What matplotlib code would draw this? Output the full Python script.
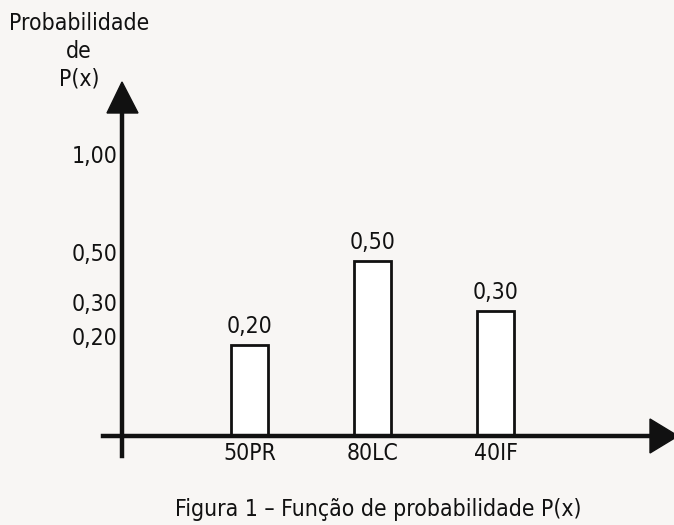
import numpy as np
import matplotlib
matplotlib.use('Agg')
import matplotlib.pyplot as plt
from matplotlib.lines import Line2D
from matplotlib.patches import Polygon

categorias = ['50PR', '80LC', '40IF']
probabilidades = [0.20, 0.50, 0.30]
ticks_y = [0.20, 0.30, 0.50, 1.00]
titulo_y = ['Probabilidade', 'de', 'P(x)']
legenda = 'Figura 1 \u2013 Função de probabilidade P(x)'

def virgula(v):
    return f'{v:.2f}'.replace('.', ',')

# the original drawing is not to scale: piecewise scale through the labelled values
nos_val = [0.0, 0.2, 0.3, 0.5, 1.0, 1.5]
nos_px = [0.0, 91.0, 125.0, 175.0, 273.0, 373.0]

def fwd(v):
    return np.interp(v, nos_val, nos_px)

def inv(p):
    return np.interp(p, nos_px, nos_val)

W, H = 674, 525
fundo = '#f8f6f4'
cor = '#111111'
fs = 16.5
fonte = dict(family='DejaVu Sans', stretch='condensed')

fig = plt.figure(figsize=(W / 100, H / 100), dpi=100, facecolor=fundo)

def px(x, y):
    return (x / W, 1 - y / H)

# axes: left edge on the y axis line, bottom on the x axis line
x0, y0, x1, y1 = 122, 436, 674, 82
ax = fig.add_axes([x0 / W, 1 - y0 / H, (x1 - x0) / W, (y0 - y1) / H])
ax.set_facecolor('none')
ax.set_yscale('function', functions=(fwd, inv))
ax.set_ylim(0, inv(y0 - y1))
ax.set_xlim(-1.04, 3.45)
for s in ax.spines.values():
    s.set_visible(False)

x = np.arange(len(categorias))
barras = ax.bar(x, probabilidades, width=0.3, color='white', edgecolor=cor, linewidth=2, zorder=3)
ax.bar_label(barras, labels=[virgula(v) for v in probabilidades], padding=5,
             fontsize=fs, color=cor, **fonte)

ax.set_xticks(x)
ax.set_xticklabels(categorias, fontsize=fs, color=cor, **fonte)
ax.set_yticks(ticks_y)
ax.set_yticklabels([virgula(v) for v in ticks_y], fontsize=fs, color=cor, **fonte)
for lbl in ax.get_yticklabels():
    lbl.set_verticalalignment('baseline')
ax.tick_params(axis='both', length=0)
ax.tick_params(axis='x', pad=4)
ax.tick_params(axis='y', pad=3)
ax.minorticks_off()

# axis lines with arrow heads
fig.add_artist(Line2D(*zip(px(122, 112), px(122, 456)), color=cor, linewidth=3.2))
fig.add_artist(Line2D(*zip(px(103, 436), px(652, 436)), color=cor, linewidth=3.2))
fig.add_artist(Polygon([px(107, 113), px(138, 113), px(122, 82)], closed=True, color=cor))
fig.add_artist(Polygon([px(650, 419), px(650, 453), px(678, 436)], closed=True, color=cor))

for i, t in enumerate(titulo_y):
    fig.text(79 / W, 1 - (30 + 27.5 * i) / H, t, ha='center', va='baseline',
             fontsize=fs, color=cor, **fonte)

fig.text(378 / W, 1 - 516 / H, legenda, ha='center', va='baseline',
         fontsize=fs, color=cor, **fonte)

fig.savefig('out.png', dpi=100, facecolor=fundo)
